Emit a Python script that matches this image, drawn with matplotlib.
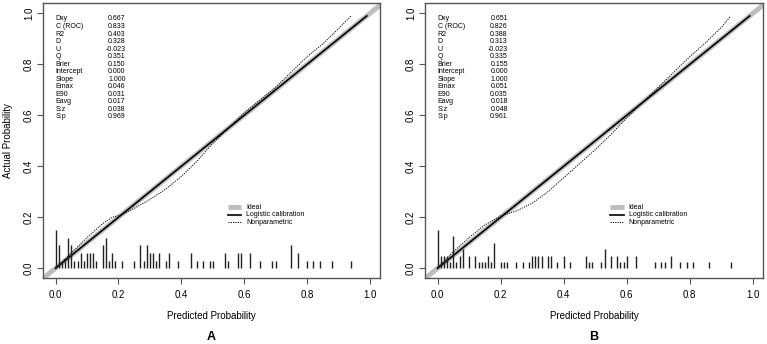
import numpy as np
import matplotlib
matplotlib.use("Agg")
import matplotlib.pyplot as plt

plt.rcParams['font.family'] = ['Liberation Sans', 'DejaVu Sans']

# --- panel A data ---
stat_names = ["Dxy", "C (ROC)", "R2", "D", "U", "Q", "Brier", "Intercept",
              "Slope", "Emax", "E90", "Eavg", "S:z", "S:p"]
stats_a = ["0.667", "0.833", "0.403", "0.328", "-0.023", "0.351", "0.150", "0.000",
           "1.000", "0.046", "0.031", "0.017", "0.038", "0.969"]
stats_b = ["0.651", "0.826", "0.388", "0.313", "-0.023", "0.335", "0.155", "0.000",
           "1.000", "0.051", "0.035", "0.018", "0.048", "0.961"]

np_x_a = [0.0, 0.05, 0.10, 0.15, 0.18, 0.21, 0.25, 0.30, 0.35, 0.40, 0.45, 0.50,
          0.55, 0.60, 0.65, 0.70, 0.75, 0.80, 0.85, 0.90, 0.94]
np_y_a = [0.0, 0.06, 0.12, 0.175, 0.20, 0.21, 0.235, 0.27, 0.31, 0.36, 0.42, 0.49,
          0.55, 0.61, 0.66, 0.71, 0.77, 0.83, 0.88, 0.94, 0.99]

np_x_b = [0.0, 0.05, 0.10, 0.15, 0.20, 0.25, 0.30, 0.35, 0.40, 0.45, 0.50, 0.55,
          0.60, 0.65, 0.70, 0.75, 0.80, 0.85, 0.90, 0.93]
np_y_b = [0.0, 0.065, 0.12, 0.17, 0.205, 0.225, 0.255, 0.30, 0.355, 0.41, 0.465, 0.525,
          0.59, 0.65, 0.71, 0.77, 0.83, 0.885, 0.945, 0.99]

spike_x_a = [0.00, 0.01, 0.02, 0.03, 0.04, 0.05, 0.06, 0.07, 0.08, 0.09, 0.10, 0.11,
             0.12, 0.13, 0.15, 0.16, 0.17, 0.18, 0.19, 0.21, 0.25, 0.27, 0.28, 0.29,
             0.30, 0.31, 0.32, 0.33, 0.35, 0.36, 0.39, 0.43, 0.45, 0.47, 0.49, 0.50,
             0.54, 0.55, 0.58, 0.59, 0.62, 0.65, 0.69, 0.70, 0.75, 0.77, 0.80, 0.82,
             0.84, 0.88, 0.94]
spike_h_a = [0.15, 0.09, 0.03, 0.03, 0.12, 0.09, 0.03, 0.03, 0.06, 0.03, 0.06, 0.06,
             0.06, 0.03, 0.09, 0.12, 0.03, 0.06, 0.03, 0.03, 0.03, 0.09, 0.03, 0.09,
             0.06, 0.06, 0.03, 0.06, 0.03, 0.06, 0.03, 0.06, 0.03, 0.03, 0.03, 0.03,
             0.06, 0.03, 0.06, 0.06, 0.06, 0.03, 0.03, 0.03, 0.09, 0.06, 0.03, 0.03,
             0.03, 0.03, 0.03]

spike_x_b = [0.00, 0.01, 0.02, 0.03, 0.04, 0.05, 0.06, 0.07, 0.08, 0.10, 0.12, 0.13,
             0.14, 0.15, 0.16, 0.17, 0.18, 0.20, 0.21, 0.22, 0.25, 0.27, 0.29, 0.30,
             0.31, 0.32, 0.33, 0.35, 0.36, 0.38, 0.40, 0.42, 0.47, 0.48, 0.49, 0.52,
             0.53, 0.55, 0.57, 0.58, 0.59, 0.60, 0.63, 0.69, 0.71, 0.72, 0.74, 0.77,
             0.79, 0.81, 0.86, 0.93]
spike_h_b = [0.15, 0.05, 0.05, 0.05, 0.025, 0.125, 0.025, 0.05, 0.075, 0.05, 0.05, 0.025,
             0.025, 0.025, 0.05, 0.025, 0.10, 0.025, 0.025, 0.025, 0.025, 0.025, 0.025, 0.05,
             0.05, 0.05, 0.05, 0.05, 0.05, 0.025, 0.05, 0.025, 0.05, 0.025, 0.025, 0.025,
             0.075, 0.05, 0.05, 0.025, 0.025, 0.05, 0.05, 0.025, 0.025, 0.025, 0.05, 0.025,
             0.025, 0.025, 0.025, 0.025]

legend_labels = ["Ideal", "Logistic calibration", "Nonparametric"]
ticks = [0.0, 0.2, 0.4, 0.6, 0.8, 1.0]
tick_labels = ["0.0", "0.2", "0.4", "0.6", "0.8", "1.0"]

fig = plt.figure(figsize=(7.67, 3.44), dpi=100)
frame_col = '#555555'
ideal_col = '#bdbdbd'


def panel(rect, stats, np_x, np_y, sx, sh, letter, ylabel):
    ax = fig.add_axes(rect)
    ax.set_xlim(-0.04, 1.032)
    ax.set_ylim(-0.038, 1.039)
    # ideal
    ax.plot([-0.1, 1.1], [-0.1, 1.1], color=ideal_col, lw=3.5, solid_capstyle='butt')
    # logistic calibration
    ax.plot([0.0, 0.99], [0.0, 0.99], color='black', lw=1.2)
    # nonparametric
    ax.plot(np_x, np_y, color='black', lw=0.7, linestyle=(0, (1.2, 1.2)))
    # spikes
    ax.vlines(sx, 0, sh, color='#222222', lw=1.0)
    # stats text
    for i, (n, v) in enumerate(zip(stat_names, stats)):
        yy = 0.978 - i * 0.0295
        ax.text(0.0, yy, n, fontsize=5, va='center', ha='left')
        ax.text(0.223, yy, v, fontsize=5, va='center', ha='right')
    # legend
    ly = [0.239, 0.209, 0.180]
    ax.plot([0.548, 0.59], [ly[0], ly[0]], color=ideal_col, lw=3.5, solid_capstyle='butt')
    ax.plot([0.548, 0.59], [ly[1], ly[1]], color='black', lw=1.2)
    ax.plot([0.548, 0.59], [ly[2], ly[2]], color='black', lw=0.7, linestyle=(0, (1.2, 1.2)))
    for t, yy in zip(legend_labels, ly):
        ax.text(0.606, yy, t, fontsize=5, va='center', ha='left')

    ax.set_xticks(ticks)
    ax.set_xticklabels(tick_labels)
    ax.set_yticks(ticks)
    ax.set_yticklabels(tick_labels, rotation=90, va='center')
    ax.tick_params(axis='both', labelsize=7, length=4, width=0.8, color=frame_col,
                   direction='out')
    ax.tick_params(axis='x', pad=5)
    ax.tick_params(axis='y', pad=2.5)
    for s in ax.spines.values():
        s.set_color(frame_col)
        s.set_linewidth(1.0)
    ax.text(0.5, -0.138, "Predicted Probability", transform=ax.transAxes,
            ha='center', va='center', fontsize=7)
    ax.text(0.5, -0.214, letter, transform=ax.transAxes, ha='center', va='center',
            fontsize=9, fontweight='bold')
    if ylabel:
        ax.text(-0.104, 0.5, "Actual Probability", transform=ax.transAxes,
                ha='center', va='center', rotation=90, fontsize=7)
    return ax


panel([0.056, 0.192, 0.4394, 0.798], stats_a, np_x_a, np_y_a, spike_x_a, spike_h_a, "A", True)
panel([0.554, 0.192, 0.4407, 0.798], stats_b, np_x_b, np_y_b, spike_x_b, spike_h_b, "B", False)

fig.savefig("out.png", dpi=100)
